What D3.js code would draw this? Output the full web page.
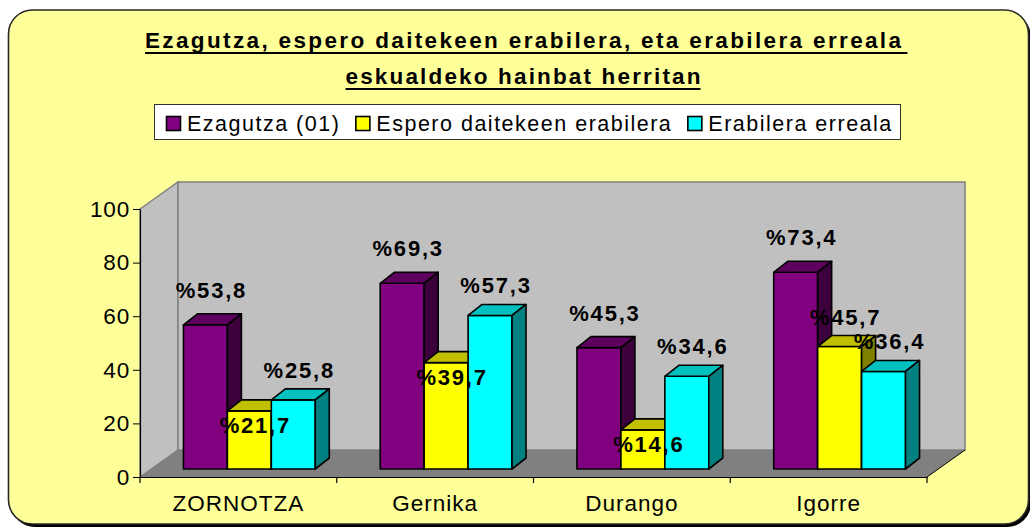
<!DOCTYPE html>
<html>
<head>
<meta charset="utf-8">
<script src="https://cdn.jsdelivr.net/npm/d3@7"></script>
<style>
  body { margin: 0; background: #fff; }
  svg text { font-family: Arial, "Liberation Sans", sans-serif; }
</style>
</head>
<body>
<svg class="chart"></svg>
<script>
// data
let categories = ["ZORNOTZA", "Gernika", "Durango", "Igorre"];
let seriesNames = ["Ezagutza (01)", "Espero daitekeen erabilera", "Erabilera erreala"];
let ezagutza = [53.8, 69.3, 45.3, 73.4];
let espero = [21.7, 39.7, 14.6, 45.7];
let erreala = [25.8, 57.3, 34.6, 36.4];
let yTicks = [0, 20, 40, 60, 80, 100];
let titleLines = ["Ezagutza, espero daitekeen erabilera, eta erabilera erreala", "eskualdeko hainbat herritan"];

let allSeries = [ezagutza, espero, erreala];

// colours: front, top, side
let colors = [
  { front: "#800080", top: "#5e005e", side: "#3c003c" },
  { front: "#ffff00", top: "#c0c000", side: "#808000" },
  { front: "#00ffff", top: "#00c0c0", side: "#008080" }
];

let svgWidth = 1030, svgHeight = 529;
let svg = d3.select(".chart").attr("width", svgWidth).attr("height", svgHeight);

// outer rounded frame with a little shadow
svg.append("rect")
  .attr("x", 11).attr("y", 13).attr("width", 1020).attr("height", 514)
  .attr("rx", 24).attr("fill", "#000");
svg.append("rect")
  .attr("x", 8.5).attr("y", 10).attr("width", 1020).attr("height", 514)
  .attr("rx", 24).attr("fill", "#ffff99").attr("stroke", "#2a2a2a").attr("stroke-width", 1.6);

// title, underlined
let titleG = svg.append("g");
titleLines.forEach(function(t, i) {
  let txt = titleG.append("text")
    .attr("x", 523).attr("y", 48 + i * 36)
    .attr("text-anchor", "middle")
    .attr("font-size", 22.5).attr("font-weight", "bold")
    .attr("textLength", i == 0 ? 756 : 355)
    .attr("lengthAdjust", "spacing")
    .text(t);
  let bb = txt.node().getBBox();
  titleG.append("line")
    .attr("x1", bb.x).attr("x2", bb.x + bb.width + (i == 0 ? 6 : 0))
    .attr("y1", 48 + i * 36 + 5).attr("y2", 48 + i * 36 + 5)
    .attr("stroke", "#000").attr("stroke-width", 2);
});

// legend box
let legend = svg.append("g");
legend.append("rect")
  .attr("x", 154.5).attr("y", 104.5).attr("width", 746).attr("height", 35)
  .attr("fill", "#fff").attr("stroke", "#333").attr("stroke-width", 1);
let lx = 166;
seriesNames.forEach(function(name, i) {
  legend.append("rect")
    .attr("x", lx + 0.5).attr("y", 116.5).attr("width", 14).attr("height", 14)
    .attr("fill", colors[i].front).attr("stroke", "#000").attr("stroke-width", 1.6);
  let t = legend.append("text")
    .attr("x", lx + 21).attr("y", 131)
    .attr("font-size", 21.5).attr("letter-spacing", 1.5)
    .text(name);
  lx = lx + 21 + t.node().getComputedTextLength() + 15;
});

// 3d plot geometry
let plotLeft = 140, plotRight = 927;
let depthX = 38, depthY = -27;     // how far the back wall sits
let barOffX = 11, barOffY = -8;    // bars sit a bit inside the floor
let barDX = 14, barDY = -11;       // bar depth

let yScale = d3.scaleLinear().domain([0, 100]).range([477, 209]);
let x0 = d3.scaleBand().domain(categories).range([plotLeft, plotRight]).padding(0);
let groupWidth = x0.bandwidth() * 0.67;
let x1 = d3.scaleBand().domain(d3.range(allSeries.length)).range([0, groupWidth]);

let y0 = yScale(0), yTop = yScale(100);

// left wall
svg.append("polygon")
  .attr("points", [[plotLeft, yTop], [plotLeft + depthX, yTop + depthY], [plotLeft + depthX, y0 + depthY], [plotLeft, y0]].join(" "))
  .attr("fill", "#c0c0c0").attr("stroke", "#808080").attr("stroke-width", 1.5);
// back wall
svg.append("polygon")
  .attr("points", [[plotLeft + depthX, yTop + depthY], [plotRight + depthX, yTop + depthY], [plotRight + depthX, y0 + depthY], [plotLeft + depthX, y0 + depthY]].join(" "))
  .attr("fill", "#c0c0c0").attr("stroke", "#808080").attr("stroke-width", 1.5);
// floor
svg.append("polygon")
  .attr("points", [[plotLeft, y0], [plotRight, y0], [plotRight + depthX, y0 + depthY], [plotLeft + depthX, y0 + depthY]].join(" "))
  .attr("fill", "#808080");
svg.append("line")
  .attr("x1", plotRight).attr("y1", y0).attr("x2", plotRight + depthX).attr("y2", y0 + depthY)
  .attr("stroke", "#000").attr("stroke-width", 1);

// flatten data so bars get drawn left to right (painter's order)
let bars = [];
categories.forEach(function(c, ci) {
  allSeries.forEach(function(s, si) {
    bars.push({ cat: c, s: si, v: s[ci] });
  });
});

function barX(d) {
  return x0(d.cat) + (x0.bandwidth() - groupWidth) / 2 + x1(d.s) + barOffX;
}

let barW = x1.bandwidth();
let barG = svg.selectAll("g.bar")
  .data(bars)
  .enter()
  .append("g")
  .attr("class", "bar");

// front face
barG.append("rect")
  .attr("x", barX)
  .attr("y", function(d) { return yScale(d.v) + barOffY; })
  .attr("width", barW)
  .attr("height", function(d) { return y0 - yScale(d.v); })
  .attr("fill", function(d) { return colors[d.s].front; });
// top face
barG.append("polygon")
  .attr("points", function(d) {
    let x = barX(d), t = yScale(d.v) + barOffY;
    return [[x, t], [x + barDX, t + barDY], [x + barW + barDX, t + barDY], [x + barW, t]].join(" ");
  })
  .attr("fill", function(d) { return colors[d.s].top; });
// side face
barG.append("polygon")
  .attr("points", function(d) {
    let x = barX(d) + barW, t = yScale(d.v) + barOffY, b = y0 + barOffY;
    return [[x, t], [x + barDX, t + barDY], [x + barDX, b + barDY], [x, b]].join(" ");
  })
  .attr("fill", function(d) { return colors[d.s].side; });
barG.selectAll("rect, polygon")
  .attr("stroke", "#000").attr("stroke-width", 1.6).attr("stroke-linejoin", "round");

// axes
let y_axis = d3.axisLeft().scale(yScale).tickValues(yTicks).tickSize(7).tickSizeOuter(0).tickPadding(3);
let yg = svg.append("g").attr("transform", "translate(" + plotLeft + ",0)").call(y_axis);
yg.selectAll("text").attr("font-size", 22.5).attr("font-family", null).attr("letter-spacing", 0.8).attr("fill", "#000");

let x_axis = d3.axisBottom().scale(x0).tickSize(0).tickPadding(18);
let xg = svg.append("g").attr("transform", "translate(0," + y0 + ")").call(x_axis);
xg.selectAll("text").attr("font-size", 22.5).attr("font-family", null).attr("letter-spacing", 1).attr("fill", "#000");
xg.select(".domain").attr("stroke", "#000").attr("stroke-width", 1.2);
yg.select(".domain").attr("stroke", "#000").attr("stroke-width", 1.2);

// category boundary ticks
let bounds = categories.map(function(c) { return x0(c); }).concat([plotRight]);
svg.selectAll("line.bt")
  .data(bounds)
  .enter()
  .append("line")
  .attr("class", "bt")
  .attr("x1", function(d) { return d; }).attr("x2", function(d) { return d; })
  .attr("y1", y0).attr("y2", y0 + 6)
  .attr("stroke", "#000").attr("stroke-width", 1.2);

// value labels "%53,8"
let fmt = d3.format(".1f");
svg.selectAll("text.val")
  .data(bars)
  .enter()
  .append("text")
  .attr("class", "val")
  .attr("x", function(d) { return barX(d) + barW / 2 + 6; })
  .attr("y", function(d) {
    let t = yScale(d.v) + barOffY;
    if (d.s == 1 && d.v < 40) return t + 22;   // yellow ones sit inside the bar
    if (d.s == 0) return t - 27;
    return t - 22;
  })
  .attr("text-anchor", "middle")
  .attr("font-size", 22).attr("font-weight", "bold")
  .attr("letter-spacing", 1.8)
  .text(function(d) { return "%" + fmt(d.v).replace(".", ","); });
</script>
</body>
</html>
